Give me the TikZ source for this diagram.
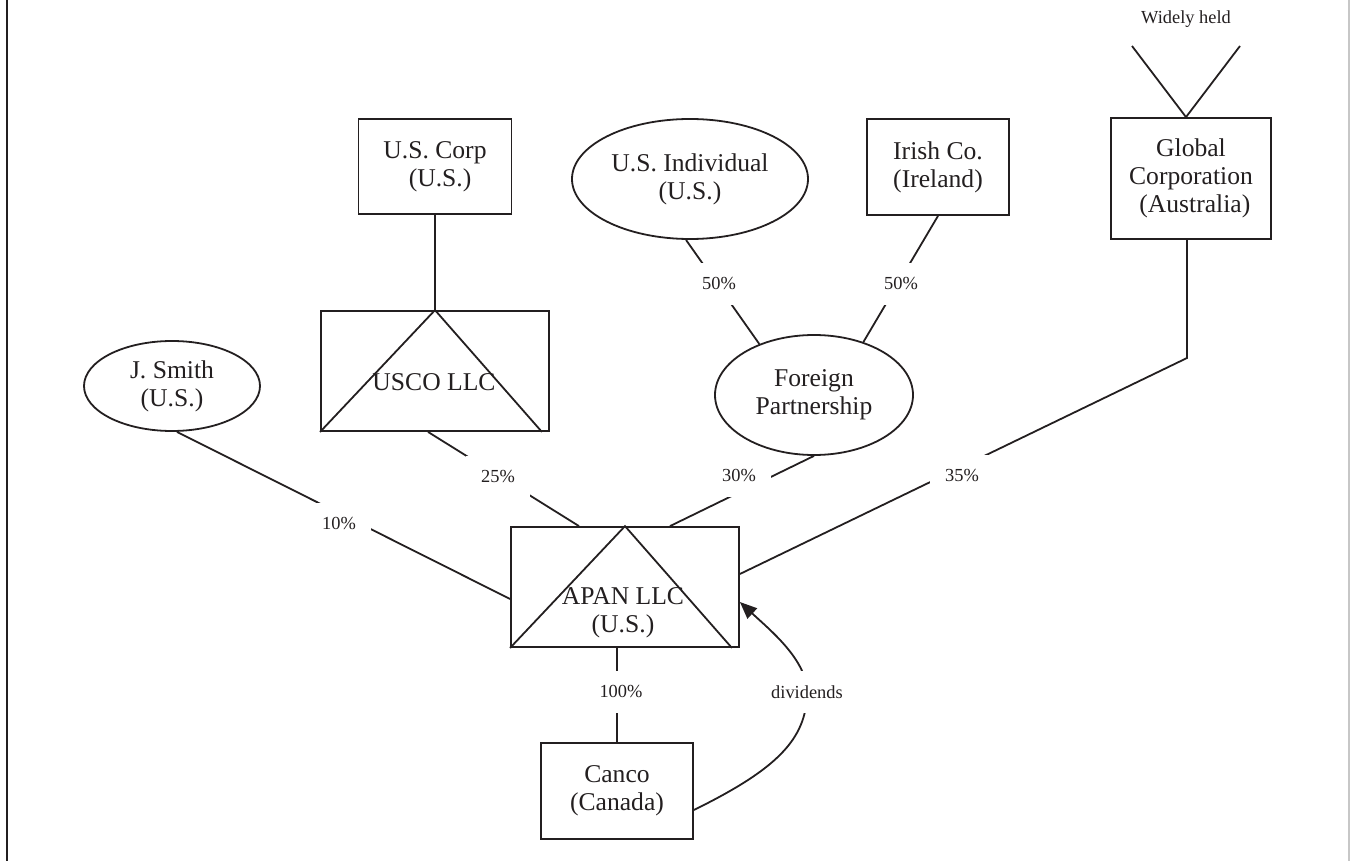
\documentclass[tikz,border=0pt]{standalone}
\usepackage{fontspec}
\setmainfont{Liberation Serif}
\usetikzlibrary{shapes.geometric,arrows.meta,calc}
\definecolor{ink}{RGB}{35,31,32}
\newcommand\entfont{\fontsize{12.8}{14}\selectfont}
\newcommand\pctfont{\fontsize{9.2}{11}\selectfont}
\tikzset{
  ent/.style={draw=ink,line width=0.9pt,inner sep=0pt,align=center,font=\entfont,text=ink},
  boxent/.style={ent,rectangle},
  ellent/.style={ent,ellipse},
  txt/.style={inner sep=0pt,align=center,font=\entfont,text=ink},
  pct/.style={fill=white,inner sep=7.5pt,font=\pctfont,text=ink},
  conn/.style={draw=ink,line width=0.9pt},
  divarrow/.style={conn,-{Triangle[length=8.5pt,width=7pt]}},
}
\begin{document}
\begin{tikzpicture}[x=0.5pt,y=-0.5pt]
\useasboundingbox (0,0) rectangle (1350,861);
% frame lines
\draw[ink,line width=1pt] (6.5,0) -- (6.5,861);
\draw[black!22,line width=1pt] (1349,0) -- (1349,861);

% entities
\node[boxent,minimum width=76.5pt,minimum height=47.5pt] (uscorp) at (435,166.5) {U.S. Corp\\\hspace*{0.4em}(U.S.)};
\node[ellent,minimum width=118pt,minimum height=60pt] (usind) at (690,179) {U.S. Individual\\(U.S.)};
\node[boxent,minimum width=71pt,minimum height=48pt] (irish) at (938,167) {Irish Co.\\(Ireland)};
\node[boxent,minimum width=80pt,minimum height=60.5pt] (global) at (1191,178.5) {Global\\Corporation\\\hspace*{0.3em}(Australia)};
\node[boxent,minimum width=114pt,minimum height=60pt] (usco) at (435,371) {};
\node[ellent,minimum width=88pt,minimum height=45pt] (js) at (172,386) {J. Smith\\(U.S.)};
\node[ellent,minimum width=99pt,minimum height=60pt] (fp) at (814,395) {Foreign\\Partnership};
\node[boxent,minimum width=114pt,minimum height=60pt] (apan) at (625,587) {};
\node[boxent,minimum width=76pt,minimum height=48pt] (canco) at (617,791) {Canco\\(Canada)};

% triangles inside the LLC boxes
\draw[conn] (usco.south west) -- (usco.north) -- ($(usco.south east)+(-8,0)$);
\draw[conn] (apan.south west) -- (apan.north) -- ($(apan.south east)+(-8,0)$);
\node[txt] (uscotxt) at (434,382) {USCO LLC};
\node[txt] (apantxt) at (623,612.5) {APAN LLC\\(U.S.)};

% widely held
\node[font=\pctfont,text=ink,inner sep=0pt] (wh) at (1186,19) {Widely held};
\coordinate (whl) at (1132,46);
\coordinate (whr) at (1240,46);
\draw[conn] (whl) -- ($(global.north)+(-5,0)$) -- (whr);

% ownership connectors
\draw[conn] (uscorp.south) -- (usco.north);
\draw[conn] ($(usind.south)+(-4,0)$) -- (fp.137);
\draw[conn] (irish.south) -- (fp.47);
\draw[conn] ($(js.south)+(5,0)$) -- ($(apan.west)+(0,12)$);
\draw[conn] ($(usco.south)+(-7,0)$) -- ($(apan.north)+(-46,0)$);
\draw[conn] (fp.south) -- ($(apan.north)+(45,0)$);
\coordinate (gbend) at (1187,358);
\draw[conn] ($(global.south)+(-4,0)$) -- (gbend) -- ($(apan.east)+(0,-13)$);
\draw[conn] ($(apan.south)+(-8,0)$) -- ($(canco.north)+(0,0)$);

% dividends
\coordinate (dv) at (807,692);
\draw[divarrow] ($(canco.east)+(0,19)$) .. controls (775,770) and (807,740) .. (dv)
   .. controls (807,660) and (770,630) .. ($(apan.east)+(0,15)$);

% labels
\node[pct] (l50a) at (719,284) {50\%};
\node[pct] (l50b) at (901,284) {50\%};
\node[pct] (l10) at (339,524) {10\%};
\node[pct] (l25) at (498,477) {25\%};
\node[pct] (l30) at (739,476) {30\%};
\node[pct] (l35) at (962,476) {35\%};
\node[pct] (l100) at (621,692) {100\%};
\node[pct] (ldiv) at (807,692) {dividends};
\end{tikzpicture}
\end{document}
